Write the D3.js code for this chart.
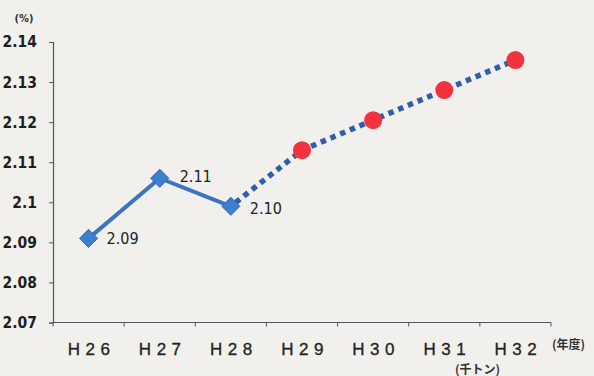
<!DOCTYPE html>
<html>
<head>
<meta charset="utf-8">
<script src="https://cdn.jsdelivr.net/npm/d3@7"></script>
<style>
  html, body { margin: 0; padding: 0; background: #f1f0ed; }
  svg { display: block; }
</style>
</head>
<body>
<script>
// Fiscal years (Heisei era)
const years = ["H26", "H27", "H28", "H29", "H30", "H31", "H32"];
// Actual results (%), H26–H28
const actual = [2.091, 2.106, 2.099];
// Targets (%), H29–H32
const target = [2.113, 2.1205, 2.128, 2.1355];
// Y-axis ticks
const yTicks = [2.07, 2.08, 2.09, 2.10, 2.11, 2.12, 2.13, 2.14];
const yTickLabels = ["2.07", "2.08", "2.09", "2.1", "2.11", "2.12", "2.13", "2.14"];

const W = 594, H = 376;
const svg = d3.select("body").append("svg").attr("width", W).attr("height", H);

svg.append("rect").attr("width", W).attr("height", H).attr("fill", "#f1f0ed");

const x = d3.scaleBand().domain(years).range([53, 551]).paddingInner(0).paddingOuter(0);
const y = d3.scaleLinear().domain([2.07, 2.14]).range([322.5, 42]);
const cx = d => x(d) + x.bandwidth() / 2;

const axisColor = "#555";

// Y axis
const yAxis = svg.append("g").attr("transform", "translate(53,0)")
  .call(d3.axisLeft(y).tickValues(yTicks).tickSize(4).tickFormat((d, i) => yTickLabels[i]));
yAxis.select(".domain").attr("stroke", axisColor).attr("stroke-width", 1.2);
yAxis.selectAll(".tick line").attr("stroke", axisColor);
yAxis.selectAll(".tick text")
  .attr("x", -16)
  .attr("fill", "#1e1e1e")
  .style("font-family", "'Liberation Sans Narrow', 'DejaVu Sans Condensed', sans-serif")
  .style("font-weight", "bold")
  .style("font-size", "15.5px");

// X axis: ticks at category boundaries, labels centred
const xAxisG = svg.append("g").attr("transform", `translate(0,${y(2.07)})`);
xAxisG.append("line").attr("x1", 53).attr("x2", 551).attr("y1", 0).attr("y2", 0)
  .attr("stroke", axisColor).attr("stroke-width", 1.2);
xAxisG.selectAll("line.tk").data(years.concat(["end"])).join("line")
  .attr("class", "tk")
  .attr("x1", (d, i) => 53 + i * x.bandwidth()).attr("x2", (d, i) => 53 + i * x.bandwidth())
  .attr("y1", 0).attr("y2", 4).attr("stroke", axisColor);
xAxisG.selectAll("text.cat").data(years).join("text")
  .attr("class", "cat")
  .attr("x", d => cx(d) + 3).attr("y", 32)
  .attr("text-anchor", "middle")
  .attr("fill", "#222")
  .attr("stroke", "#222").attr("stroke-width", 0.3)
  .style("font-family", "'Liberation Sans', Arial, sans-serif")
  .style("font-size", "17px")
  .style("letter-spacing", "5.5px")
  .text(d => d);

// Units
svg.append("text").attr("x", 24).attr("y", 22).attr("text-anchor", "middle")
  .attr("fill", "#333")
  .style("font-family", "'Liberation Sans Narrow', 'DejaVu Sans Condensed', sans-serif")
  .style("font-weight", "bold").style("font-size", "11px").text("(%)");
svg.append("text").attr("x", 552).attr("y", 349)
  .attr("fill", "#333")
  .style("font-family", "'Noto Sans CJK JP', sans-serif")
  .style("font-size", "12px").style("font-weight", "bold").text("(年度)");
svg.append("text").attr("x", 455).attr("y", 374)
  .attr("fill", "#333")
  .style("font-family", "'Noto Sans CJK JP', sans-serif")
  .style("font-size", "12px").style("font-weight", "bold").text("(千トン)");

const blue = "#3d74c2";

// Dotted target line from the last actual year through the targets
const dotted = [{ k: years[2], v: actual[2] }].concat(target.map((v, i) => ({ k: years[3 + i], v })));
svg.append("path").datum(dotted)
  .attr("d", d3.line().x(d => cx(d.k)).y(d => y(d.v)))
  .attr("fill", "none").attr("stroke", "#2f5fa8").attr("stroke-width", 5.5)
  .attr("stroke-dasharray", "5.5,5").attr("stroke-dashoffset", -6);

// Solid actual line
const act = actual.map((v, i) => ({ k: years[i], v }));
svg.append("path").datum(act)
  .attr("d", d3.line().x(d => cx(d.k)).y(d => y(d.v)))
  .attr("fill", "none").attr("stroke", blue).attr("stroke-width", 4);

// Diamond markers
svg.selectAll("path.dia").data(act).join("path")
  .attr("class", "dia")
  .attr("d", d3.symbol().type(d3.symbolDiamond2).size(210))
  .attr("transform", d => `translate(${cx(d.k)},${y(d.v)})`)
  .attr("fill", "#3f7fd0").attr("stroke", "#3568b5").attr("stroke-width", 1);

// Red target markers
const tgt = target.map((v, i) => ({ k: years[3 + i], v }));
svg.selectAll("circle.tgt").data(tgt).join("circle")
  .attr("class", "tgt")
  .attr("cx", d => cx(d.k)).attr("cy", d => y(d.v)).attr("r", 9)
  .attr("fill", "#f2323d");

// Value labels on actual points
const labelOffset = [[18, 6], [20, 4], [19, 8]];
svg.selectAll("text.val").data(act).join("text")
  .attr("class", "val")
  .attr("x", (d, i) => cx(d.k) + labelOffset[i][0])
  .attr("y", (d, i) => y(d.v) + labelOffset[i][1])
  .attr("fill", "#222")
  .style("font-family", "'Liberation Sans Narrow', 'DejaVu Sans Condensed', sans-serif")
  .style("font-size", "16px")
  .text(d => d3.format(".2f")(d.v));
</script>
</body>
</html>
